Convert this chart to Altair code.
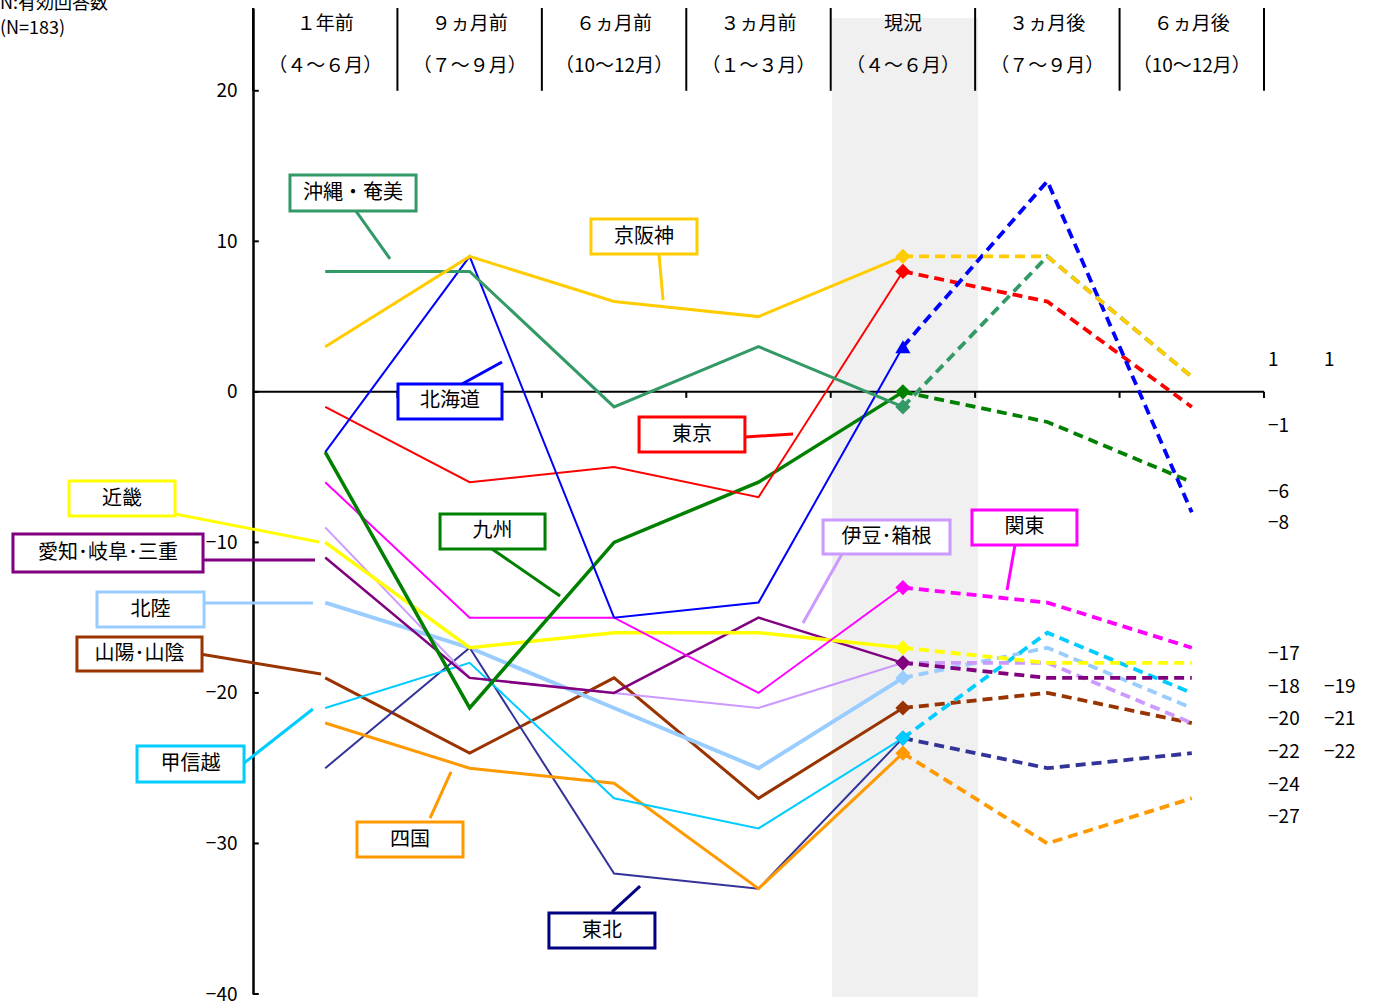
import altair as alt
import pandas as pd

FONT = "Noto Sans CJK JP"

# ---------------- data ----------------
periods = ["1年前", "9ヵ月前", "6ヵ月前", "3ヵ月前", "現況", "3ヵ月後", "6ヵ月後"]
header_top = ["１年前", "９ヵ月前", "６ヵ月前", "３ヵ月前", "現況", "３ヵ月後", "６ヵ月後"]
header_bottom = ["（４～６月）", "（７～９月）", "（10～12月）", "（１～３月）", "（４～６月）", "（７～９月）", "（10～12月）"]

v_okinawa = [8, 8, -1, 3, -1, 9, 1]
v_keihanshin = [3, 9, 6, 5, 9, 9, 1]
v_hokkaido = [-4, 9, -15, -14, 3, 14, -8]
v_tokyo = [-1, -6, -5, -7, 8, 6, -1]
v_kyushu = [-4, -21, -10, -6, 0, -2, -6]
v_kanto = [-6, -15, -15, -20, -13, -14, -17]
v_kinki = [-10, -17, -16, -16, -17, -18, -18]
v_aichi = [-11, -19, -20, -15, -18, -19, -19]
v_izu = [-9, -19, -20, -21, -18, -18, -22]
v_hokuriku = [-14, -17, -21, -25, -19, -17, -21]
v_sanyo = [-19, -24, -19, -27, -21, -20, -22]
v_koshinetsu = [-21, -18, -27, -29, -23, -16, -20]
v_tohoku = [-25, -17, -32, -33, -23, -25, -24]
v_shikoku = [-22, -25, -26, -33, -24, -30, -27]

series = [
    ("山陽･山陰", v_sanyo), ("北陸", v_hokuriku), ("東北", v_tohoku), ("四国", v_shikoku),
    ("甲信越", v_koshinetsu), ("伊豆･箱根", v_izu), ("愛知･岐阜･三重", v_aichi),
    ("近畿", v_kinki), ("関東", v_kanto), ("九州", v_kyushu), ("東京", v_tokyo),
    ("北海道", v_hokkaido), ("沖縄・奄美", v_okinawa), ("京阪神", v_keihanshin),
]

# styles (colour, solid line width, marker shape)
style = {
    "沖縄・奄美": ("#339966", 3, "diamond"),
    "京阪神": ("#FFCC00", 3, "diamond"),
    "北海道": ("#0000FF", 2, "triangle-up"),
    "東京": ("#FF0000", 2, "diamond"),
    "九州": ("#008000", 3.5, "diamond"),
    "関東": ("#FF00FF", 2, "diamond"),
    "近畿": ("#FFFF00", 3.5, "diamond"),
    "愛知･岐阜･三重": ("#800080", 2.5, "diamond"),
    "伊豆･箱根": ("#CC99FF", 2, "diamond"),
    "北陸": ("#99CCFF", 4, "diamond"),
    "山陽･山陰": ("#993300", 3, "diamond"),
    "甲信越": ("#00CCFF", 2, "diamond"),
    "東北": ("#333399", 2, "diamond"),
    "四国": ("#FF9900", 3, "diamond"),
}

# annotation boxes (data units)
label_names = ["沖縄・奄美", "京阪神", "北海道", "東京", "近畿", "九州", "愛知･岐阜･三重",
               "伊豆･箱根", "関東", "北陸", "山陽･山陰", "甲信越", "四国", "東北"]
box_x1 = [0.256, 2.340, 1.004, 2.673, -1.274, 1.295, -1.662, 3.947, 4.978, -1.080, -1.219, -0.803, 0.720, 2.049]
box_x2 = [1.129, 3.074, 1.724, 3.406, -0.540, 2.022, -0.346, 4.826, 5.705, -0.339, -0.353, -0.062, 1.454, 2.783]
box_y1 = [14.41, 11.48, 0.52, -1.67, -5.92, -8.11, -9.44, -8.51, -7.85, -13.30, -16.29, -23.53, -28.58, -34.62]
box_y2 = [12.01, 9.16, -1.80, -4.00, -8.25, -10.44, -11.97, -10.77, -10.17, -15.62, -18.54, -25.92, -30.90, -36.95]
leader_x1 = [0.713, 2.811, 1.447, 3.406, -0.540, 1.655, -0.346, 4.078, 5.276, -0.339, -0.367, -0.062, 1.226, 2.486]
leader_y1 = [12.01, 9.16, 0.52, -3.00, -8.11, -10.44, -11.17, -10.77, -10.17, -14.03, -17.42, -24.66, -28.31, -34.55]
leader_x2 = [0.949, 2.839, 1.724, 3.739, 0.457, 2.126, 0.429, 3.808, 5.221, 0.415, 0.471, 0.415, 1.371, 2.680]
leader_y2 = [8.83, 6.10, 1.98, -2.80, -9.97, -13.56, -11.17, -15.36, -13.16, -14.03, -18.74, -21.07, -25.25, -32.83]

# right-side value labels
right_col1 = ["1", "−1", "−6", "−8", "−17", "−18", "−20", "−22", "−24", "−27"]
right_col1_y = [2.12, -2.27, -6.65, -8.71, -17.42, -19.61, -21.73, -23.93, -26.12, -28.24]
right_col2 = ["1", "−19", "−21", "−22"]
right_col2_y = [2.12, -19.61, -21.73, -23.93]

y_ticks = [20, 10, 0, -10, -20, -30, -40]

# ---------------- tables ----------------
rows_solid, rows_dash, rows_mark = [], [], []
for name, vals in series:
    col, w, shp = style[name]
    for i, v in enumerate(vals):
        r = {"region": name, "x": i + 0.5, "v": v, "c": col, "w": w, "shape": shp}
        if i <= 4:
            rows_solid.append(r)
        if i >= 4:
            rows_dash.append(r)
        if i == 4:
            rows_mark.append(r)
df_solid = pd.DataFrame(rows_solid)
df_dash = pd.DataFrame(rows_dash)
df_mark = pd.DataFrame(rows_mark)

box_col = {n: style[n][0] for n in style}
box_col["東北"] = "#000080"
df_lab = pd.DataFrame({
    "label": label_names,
    "x1": box_x1, "x2": box_x2, "y1": box_y1, "y2": box_y2,
    "lx1": leader_x1, "ly1": leader_y1, "lx2": leader_x2, "ly2": leader_y2,
    "c": [box_col[n] for n in label_names],
})
df_lab["tx"] = (df_lab["x1"] + df_lab["x2"]) / 2
df_lab["ty"] = (df_lab["y1"] + df_lab["y2"]) / 2

df_head = pd.DataFrame({"x": [i + 0.5 for i in range(7)], "top": header_top, "bot": header_bottom})
df_sep = pd.DataFrame({"x": list(range(8))})
df_yt = pd.DataFrame({"y": y_ticks})
df_zt = pd.DataFrame({"x": list(range(1, 8))})
df_r1 = pd.DataFrame({"t": right_col1, "y": right_col1_y})
df_r2 = pd.DataFrame({"t": right_col2, "y": right_col2_y})

XS = alt.Scale(domain=[0, 7], nice=False, zero=False)
YS = alt.Scale(domain=[-40, 25.5], nice=False, zero=False)
YAX = alt.Axis(values=y_ticks, ticks=False, grid=False, domain=True, domainColor="black",
               domainWidth=2.5, labelFontSize=19, labelFont=FONT, labelColor="black",
               labelPadding=16, title=None)


def X(f):
    return alt.X(f, type="quantitative", scale=XS, axis=None)


def Y(f):
    return alt.Y(f, type="quantitative", scale=YS, axis=YAX)


base = alt.Chart(pd.DataFrame({"a": [0]}))

band = base.mark_rect(color="#F0F0F0").encode(
    x=alt.datum(4.01, type="quantitative", scale=XS, axis=None), x2=alt.datum(5.02),
    y=alt.datum(24.84, type="quantitative", scale=YS, axis=YAX), y2=alt.datum(-40.2))

seps = alt.Chart(df_sep).mark_rule(color="black", strokeWidth=2).encode(
    x=X("x"), y=alt.datum(25.5, type="quantitative", scale=YS, axis=YAX), y2=alt.datum(20))

zero = base.mark_rule(color="black", strokeWidth=2).encode(
    x=alt.datum(0, type="quantitative", scale=XS, axis=None), x2=alt.datum(7),
    y=alt.datum(0, type="quantitative", scale=YS, axis=YAX))

zticks = alt.Chart(df_zt).mark_rule(color="black", strokeWidth=2).encode(
    x=X("x"), y=alt.datum(0, type="quantitative", scale=YS, axis=YAX), y2=alt.datum(-0.4))

yticks = alt.Chart(df_yt).mark_rule(color="black", strokeWidth=2).encode(
    x=alt.datum(0, type="quantitative", scale=XS, axis=None), x2=alt.datum(0.04), y=Y("y"))

solid = alt.Chart(df_solid).mark_line().encode(
    x=X("x"), y=Y("v"), detail="region:N",
    color=alt.Color("c:N", scale=None),
    strokeWidth=alt.StrokeWidth("w:Q", scale=None),
    order="x:Q")

dashed = alt.Chart(df_dash).mark_line(strokeDash=[10, 6], strokeWidth=3.8).encode(
    x=X("x"), y=Y("v"), detail="region:N",
    color=alt.Color("c:N", scale=None), order="x:Q")

marks = alt.Chart(df_mark).mark_point(filled=True, opacity=1, size=230).encode(
    x=X("x"), y=Y("v"),
    color=alt.Color("c:N", scale=None),
    shape=alt.Shape("shape:N", scale=None))

leaders = alt.Chart(df_lab).mark_rule(strokeWidth=3).encode(
    x=X("lx1"), x2="lx2", y=Y("ly1"), y2="ly2", color=alt.Color("c:N", scale=None))

boxes = alt.Chart(df_lab).mark_rect(fill="white", strokeWidth=3).encode(
    x=X("x1"), x2="x2", y=Y("y1"), y2="y2", stroke=alt.Stroke("c:N", scale=None))

box_text = alt.Chart(df_lab).mark_text(font=FONT, fontSize=20, color="black", baseline="middle").encode(
    x=X("tx"), y=Y("ty"), text="label:N")

head1 = alt.Chart(df_head).mark_text(font=FONT, fontSize=19, color="black", baseline="middle").encode(
    x=X("x"), y=alt.datum(24.44, type="quantitative", scale=YS, axis=YAX), text="top:N")
head2 = alt.Chart(df_head).mark_text(font=FONT, fontSize=19, color="black", baseline="middle").encode(
    x=X("x"), y=alt.datum(21.65, type="quantitative", scale=YS, axis=YAX), text="bot:N")

rlab1 = alt.Chart(df_r1).mark_text(font=FONT, fontSize=19, color="black", align="left", baseline="middle").encode(
    x=alt.datum(7.028, type="quantitative", scale=XS, axis=None), y=Y("y"), text="t:N")
rlab2 = alt.Chart(df_r2).mark_text(font=FONT, fontSize=19, color="black", align="left", baseline="middle").encode(
    x=alt.datum(7.415, type="quantitative", scale=XS, axis=None), y=Y("y"), text="t:N")

ntext1 = base.mark_text(font=FONT, fontSize=18, color="black", align="left", baseline="bottom").encode(
    x=alt.datum(-1.752, type="quantitative", scale=XS, axis=None),
    y=alt.datum(25.17, type="quantitative", scale=YS, axis=YAX), text=alt.value("N:有効回答数"))
ntext2 = base.mark_text(font=FONT, fontSize=18, color="black", align="left", baseline="middle").encode(
    x=alt.datum(-1.752, type="quantitative", scale=XS, axis=None),
    y=alt.datum(24.1, type="quantitative", scale=YS, axis=YAX), text=alt.value("(N=183)"))

chart = alt.layer(
    band, seps, zero, zticks, yticks, solid, dashed, marks, leaders, boxes, box_text,
    head1, head2, rlab1, rlab2, ntext1, ntext2
).properties(
    width=1011, height=986,
    padding={"left": 253, "top": 8, "right": 112, "bottom": 11},
    autosize=alt.AutoSizeParams(type="none"),
    background="white",
).configure_view(strokeWidth=0)

chart.save("out.html", embed_options={"renderer": "svg", "actions": False})
